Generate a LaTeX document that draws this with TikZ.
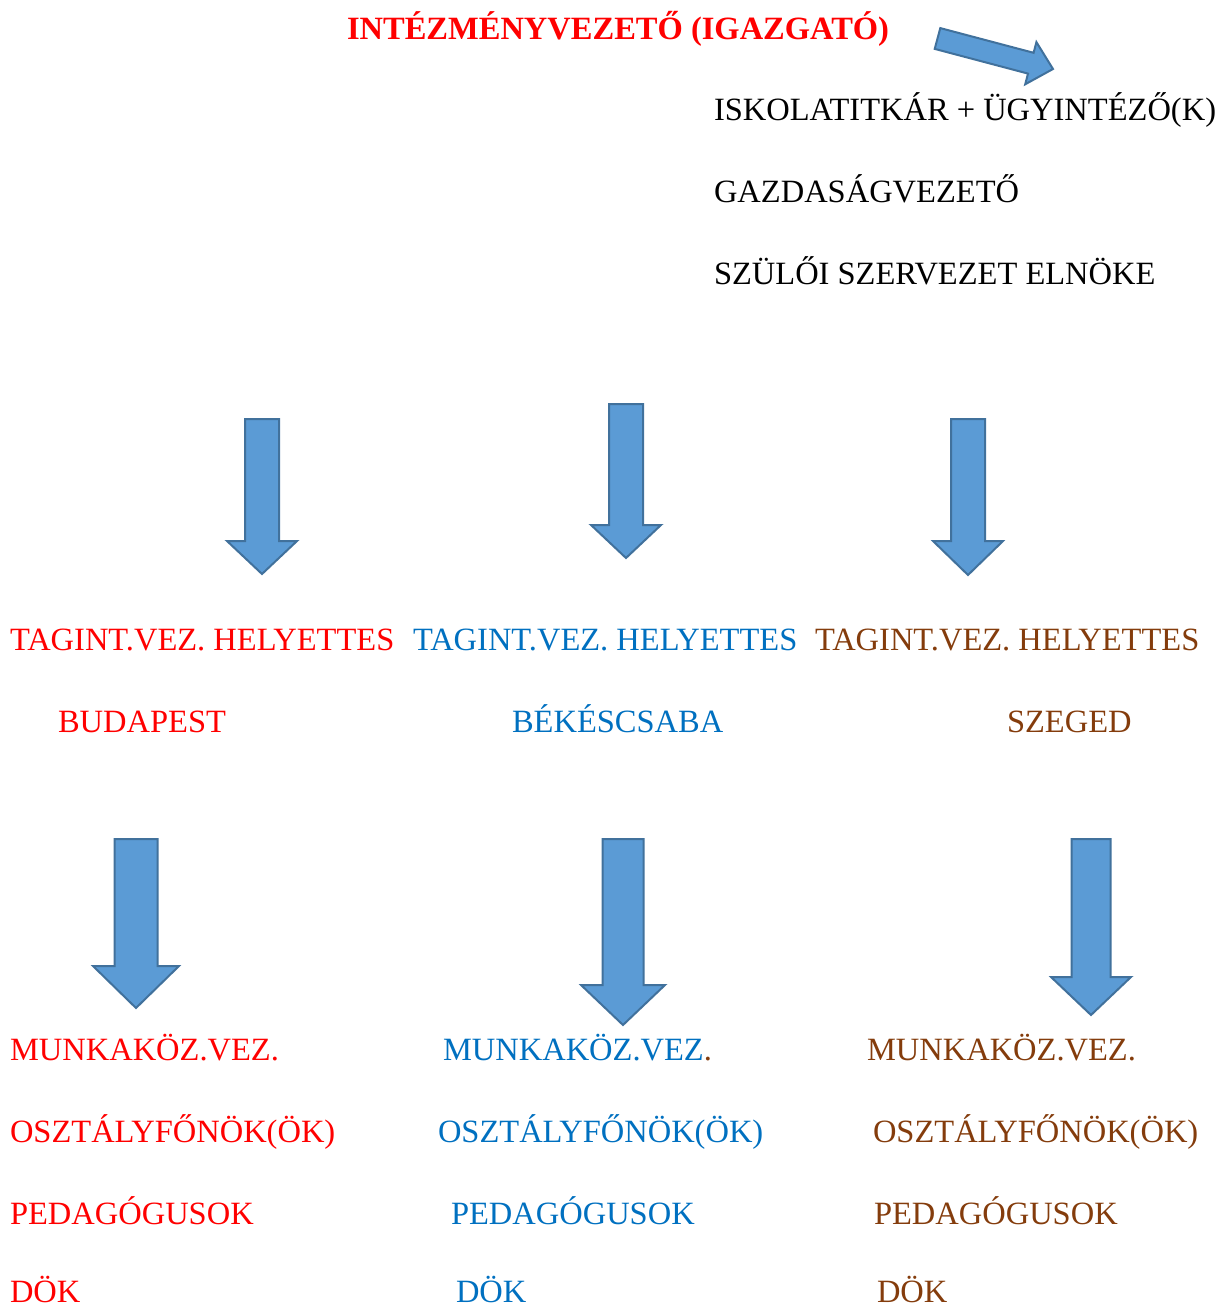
\documentclass[tikz,border=0pt]{standalone}
\usepackage{fontspec}
\setmainfont{Liberation Serif}
\definecolor{tred}{RGB}{255,0,0}
\definecolor{tblue}{RGB}{0,112,192}
\definecolor{tbrown}{RGB}{132,60,12}
\definecolor{afill}{RGB}{91,155,213}
\definecolor{aline}{RGB}{65,113,156}
\newcommand{\blockdown}[7]{% name, center x, half shaft, top, head base, half head, tip
  \draw[blockarrow] (#2-#3,#4) -- (#2+#3,#4) -- (#2+#3,#5) -- (#2+#6,#5)
    -- coordinate[pos=1] (#1) (#2,#7) -- (#2-#6,#5) -- (#2-#3,#5) -- cycle;}
\begin{document}
\begin{tikzpicture}[x=1pt,y=-1pt,
  lbl/.style={anchor=base west,inner sep=0pt,outer sep=0pt,font=\fontsize{32.5}{38}\selectfont},
  blockarrow/.style={fill=afill,draw=aline,line width=2pt,line join=miter}]
\useasboundingbox (0,0) rectangle (1223,1309);
% title
\node[lbl,text=tred,font=\fontsize{32.5}{38}\selectfont\bfseries] (title) at (347,39) {INTÉZMÉNYVEZETŐ (IGAZGATÓ)};
% diagonal arrow
\draw[blockarrow] (940.3,28.1) -- (1033.6,52.8) -- (1036.4,42.1) -- (1053,69) coordinate (diagtip)
  -- (1025.2,84.3) -- (1028.0,73.6) -- (934.7,48.9) -- cycle;
% staff
\node[lbl] (titkar) at (714,120) {ISKOLATITKÁR + ÜGYINTÉZŐ(K)};
\node[lbl] (gazd) at (714,202) {GAZDASÁGVEZETŐ};
\node[lbl] (szuloi) at (714,284) {SZÜLŐI SZERVEZET ELNÖKE};
% first row arrows
\blockdown{a1}{262}{17}{419}{541}{35}{574}
\blockdown{a2}{626}{17}{404}{525}{35}{558}
\blockdown{a3}{968}{17}{419}{541}{35}{575}
% deputies
\node[lbl,text=tred] (h1) at (10,650) {TAGINT.VEZ. HELYETTES};
\node[lbl,text=tblue] (h2) at (413,650) {TAGINT.VEZ. HELYETTES};
\node[lbl,text=tbrown] (h3) at (815,650) {TAGINT.VEZ. HELYETTES};
\node[lbl,text=tred] (c1) at (58,732) {BUDAPEST};
\node[lbl,text=tblue] (c2) at (512,732) {BÉKÉSCSABA};
\node[lbl,text=tbrown] (c3) at (1007,732) {SZEGED};
% second row arrows
\blockdown{b1}{136}{21.5}{839}{966}{43}{1008}
\blockdown{b2}{623}{20.5}{839}{985}{42}{1025}
\blockdown{b3}{1091}{19.5}{839}{977}{40}{1015}
% lower lists
\node[lbl,text=tred] (m1) at (10,1060) {MUNKAKÖZ.VEZ.};
\node[lbl,text=tblue] (m2) at (443,1060) {MUNKAKÖZ.VEZ\textcolor{tbrown}{.}};
\node[lbl,text=tbrown] (m3) at (867,1060) {MUNKAKÖZ.VEZ.};
\node[lbl,text=tred] (o1) at (10,1142) {OSZTÁLYFŐNÖK(ÖK)};
\node[lbl,text=tblue] (o2) at (438,1142) {OSZTÁLYFŐNÖK(ÖK)};
\node[lbl,text=tbrown] (o3) at (873,1142) {OSZTÁLYFŐNÖK(ÖK)};
\node[lbl,text=tred] (p1) at (10,1224) {PEDAGÓGUSOK};
\node[lbl,text=tblue] (p2) at (451,1224) {PEDAGÓGUSOK};
\node[lbl,text=tbrown] (p3) at (874,1224) {PEDAGÓGUSOK};
\node[lbl,text=tred] (d1) at (10,1302) {DÖK};
\node[lbl,text=tblue] (d2) at (456,1302) {DÖK};
\node[lbl,text=tbrown] (d3) at (877,1302) {DÖK};
\end{tikzpicture}
\end{document}
